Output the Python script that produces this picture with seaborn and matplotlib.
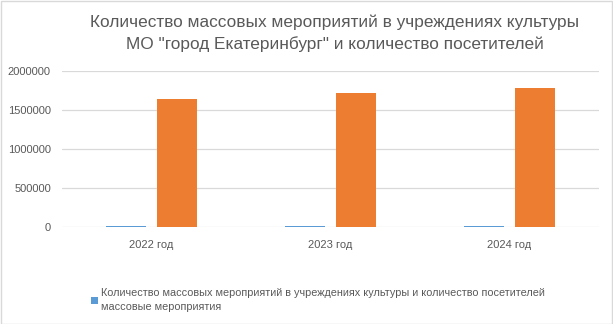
import matplotlib
matplotlib.use("Agg")
import matplotlib.pyplot as plt
import seaborn as sns
import pandas as pd
from matplotlib.patches import Rectangle, Patch

years = ["2022 год", "2023 год", "2024 год"]
events = [17500, 18000, 18500]
visitors = [1645000, 1722000, 1785000]
series_names = ["Количество массовых мероприятий в учреждениях культуры и количество посетителей\nмассовые мероприятия", "посетители"]
yticks = [0, 500000, 1000000, 1500000, 2000000]
title = "Количество массовых мероприятий в учреждениях культуры\nМО \"город Екатеринбург\" и количество посетителей"
colors = ["#5B9BD5", "#ED7D31"]

df = pd.DataFrame({
    "year": years * 2,
    "value": events + visitors,
    "series": [series_names[0]] * 3 + [series_names[1]] * 3,
})

sns.set_style("white")
plt.rcParams['font.family'] = ['Liberation Sans', 'DejaVu Sans']

fig = plt.figure(figsize=(6.13, 3.24), dpi=100)
ax = fig.add_axes([62/613, 1 - 227/324, (599-62)/613, (227-71)/324])

sns.barplot(data=df, x="year", y="value", hue="series", order=years,
            hue_order=series_names, palette=colors,
            saturation=1, width=0.56, gap=0.2, ax=ax, legend=False)
for p in ax.patches:
    p.set_zorder(3)
    p.set_edgecolor("none")

ax.set_ylim(0, 2000000)
ax.set_xlim(-0.5, 2.5)
ax.set_yticks(yticks)
ax.set_yticklabels([str(v) for v in yticks])
ax.yaxis.grid(True, color="#d9d9d9", linewidth=0.9, zorder=0)
ax.set_axisbelow(True)
for s in ["top", "right", "left", "bottom"]:
    ax.spines[s].set_visible(False)
ax.tick_params(axis="both", length=0, labelsize=8, colors="#595959")
ax.tick_params(axis="y", pad=8)
ax.tick_params(axis="x", pad=9)
ax.set_xlabel("")
ax.set_ylabel("")

leg = fig.legend([Patch(facecolor=colors[0], edgecolor="none")], [series_names[0]],
                 loc="upper left",
                 bbox_to_anchor=(91/613, 1 - 288/324), frameon=False,
                 fontsize=7.8, labelcolor="#595959", handlelength=0.6, handleheight=0.6,
                 handletextpad=0.35, borderaxespad=0, borderpad=0)
for t in leg.get_texts():
    t.set_linespacing(1.55)

fig.text(335/613, 1 - 33/324, title, ha="center", va="center", fontsize=12.4,
         color="#595959", linespacing=1.45)

fig.patches.append(Rectangle((0.5/613, 0.5/324), 1 - 1.5/613, 1 - 1.5/324,
                             transform=fig.transFigure, fill=False,
                             edgecolor="#d9d9d9", linewidth=1))

fig.savefig("out.png", dpi=100)
